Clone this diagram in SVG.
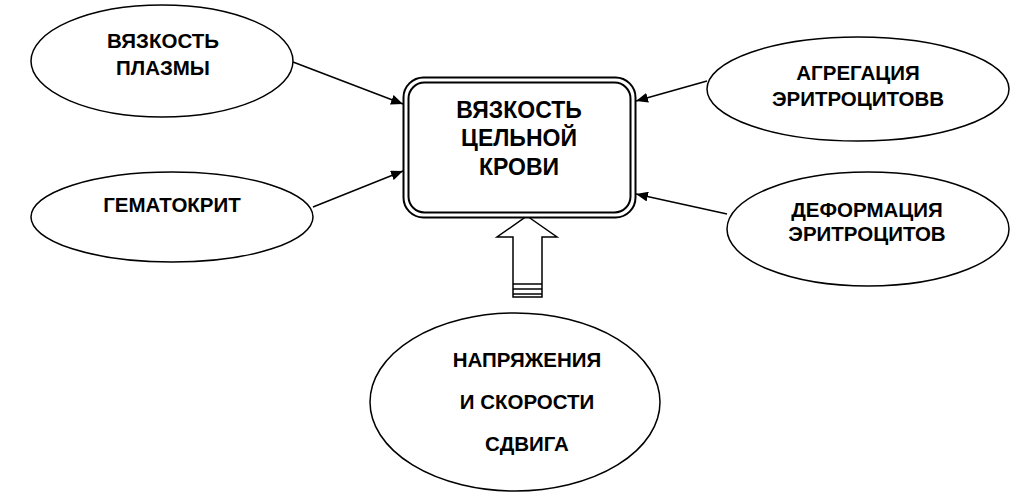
<svg xmlns="http://www.w3.org/2000/svg" width="1034" height="501" viewBox="0 0 1034 501">
<defs>
<marker id="ah" viewBox="0 0 12 10" refX="12" refY="5" markerWidth="12" markerHeight="10" markerUnits="userSpaceOnUse" orient="auto">
<path d="M0,0 L12,5 L0,10 z" fill="#000"/>
</marker>
</defs>
<style>
.node ellipse{fill:#fff;stroke:#000;stroke-width:1.5}
.t{font-family:"Liberation Sans",Arial,sans-serif;font-weight:bold;font-size:20.5px;fill:#000;text-anchor:middle}
.big{font-size:23px}
.conn line{stroke:#000;stroke-width:1.5;marker-end:url(#ah)}
</style>
<rect width="1034" height="501" fill="#fff"/>
<g id="connectors" class="conn">
<line x1="293" y1="62" x2="403" y2="104"/>
<line x1="313" y1="207" x2="403" y2="171"/>
<line x1="707" y1="81" x2="636" y2="101"/>
<line x1="727" y1="214" x2="636" y2="194"/>
<g id="block-arrow">
<path d="M527,216 L557,237 L542,237 L542,297 L513,297 L513,237 L497,237 Z" fill="#fff" stroke="#000" stroke-width="1.5"/>
<line x1="513" y1="284" x2="542" y2="284" stroke="#000" stroke-width="1.5" style="marker-end:none"/>
<line x1="513" y1="289" x2="542" y2="289" stroke="#000" stroke-width="2" style="marker-end:none"/>
<line x1="513" y1="294" x2="542" y2="294" stroke="#000" stroke-width="2" style="marker-end:none"/>
</g>
</g>
<g id="center">
<rect x="403.5" y="77.5" width="232" height="140" rx="20" fill="#fff" stroke="#000" stroke-width="2"/>
<rect x="408.5" y="82.5" width="222" height="130" rx="16" fill="none" stroke="#000" stroke-width="2"/>
<text class="t big" x="519" y="118">ВЯЗКОСТЬ</text>
<text class="t big" x="519" y="146">ЦЕЛЬНОЙ</text>
<text class="t big" x="519" y="175">КРОВИ</text>
</g>
<g id="plasma" class="node">
<ellipse cx="162" cy="61" rx="131" ry="56"/>
<text class="t" x="163" y="48">ВЯЗКОСТЬ</text>
<text class="t" x="163" y="75">ПЛАЗМЫ</text>
</g>
<g id="hematocrit" class="node">
<ellipse cx="172" cy="217" rx="141" ry="45"/>
<text class="t" x="172" y="212">ГЕМАТОКРИТ</text>
</g>
<g id="aggregation" class="node">
<ellipse cx="858" cy="89" rx="151" ry="52"/>
<text class="t" x="858" y="80">АГРЕГАЦИЯ</text>
<text class="t" x="858" y="106">ЭРИТРОЦИТОВВ</text>
</g>
<g id="deformation" class="node">
<ellipse cx="868" cy="229" rx="141" ry="57"/>
<text class="t" x="867" y="217">ДЕФОРМАЦИЯ</text>
<text class="t" x="867" y="241">ЭРИТРОЦИТОВ</text>
</g>
<g id="shear" class="node">
<ellipse cx="515" cy="402" rx="145" ry="89"/>
<text class="t" x="527" y="367">НАПРЯЖЕНИЯ</text>
<text class="t" x="527" y="409">И СКОРОСТИ</text>
<text class="t" x="527" y="451">СДВИГА</text>
</g>
</svg>
